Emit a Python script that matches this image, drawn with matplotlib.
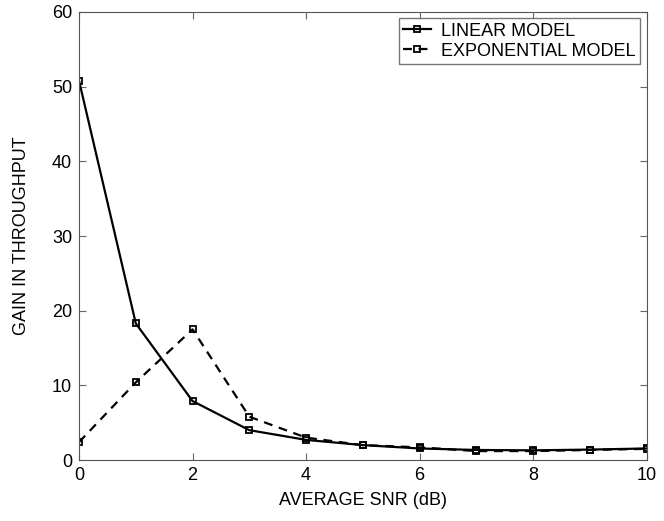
import matplotlib
matplotlib.use('Agg')
import matplotlib.pyplot as plt

snr = [0, 1, 2, 3, 4, 5, 6, 7, 8, 9, 10]
linear_gain = [50.8, 18.3, 7.9, 4.0, 2.7, 2.0, 1.55, 1.35, 1.3, 1.4, 1.55]
exp_gain = [2.4, 10.4, 17.5, 5.8, 3.0, 2.0, 1.7, 1.2, 1.2, 1.35, 1.5]

plt.rcParams['font.family'] = ['Liberation Sans', 'DejaVu Sans']

fig = plt.figure(figsize=(6.64, 5.21), dpi=100)
ax = fig.add_axes([0.119, 0.117, 0.855, 0.86])

ax.plot(snr, linear_gain, '-s', color='black', lw=1.6, ms=5,
        mfc='none', mew=1.3, label='LINEAR MODEL')
ax.plot(snr, exp_gain, '--s', color='black', lw=1.6, ms=5,
        mfc='none', mew=1.3, dashes=(4, 3), label='EXPONENTIAL MODEL')

ax.set_xlim(0, 10)
ax.set_ylim(0, 60)
ax.set_xticks(range(0, 11, 2))
ax.set_yticks(range(0, 61, 10))
ax.tick_params(direction='in', top=True, right=True, labelsize=13,
               length=5, color='#666666', pad=5)
for s in ax.spines.values():
    s.set_color('#555555')

ax.set_xlabel('AVERAGE SNR (dB)', fontsize=13, labelpad=6)
ax.set_ylabel('GAIN IN THROUGHPUT', fontsize=13, labelpad=16)

leg = ax.legend(loc='upper right', fontsize=13, frameon=True, fancybox=False,
                handlelength=1.5, borderpad=0.25, labelspacing=0.15,
                borderaxespad=0.35, handletextpad=0.6, markerscale=0.8)
leg.get_frame().set_edgecolor('#555555')
leg.get_frame().set_linewidth(1.0)

fig.savefig('out.png', dpi=100)
